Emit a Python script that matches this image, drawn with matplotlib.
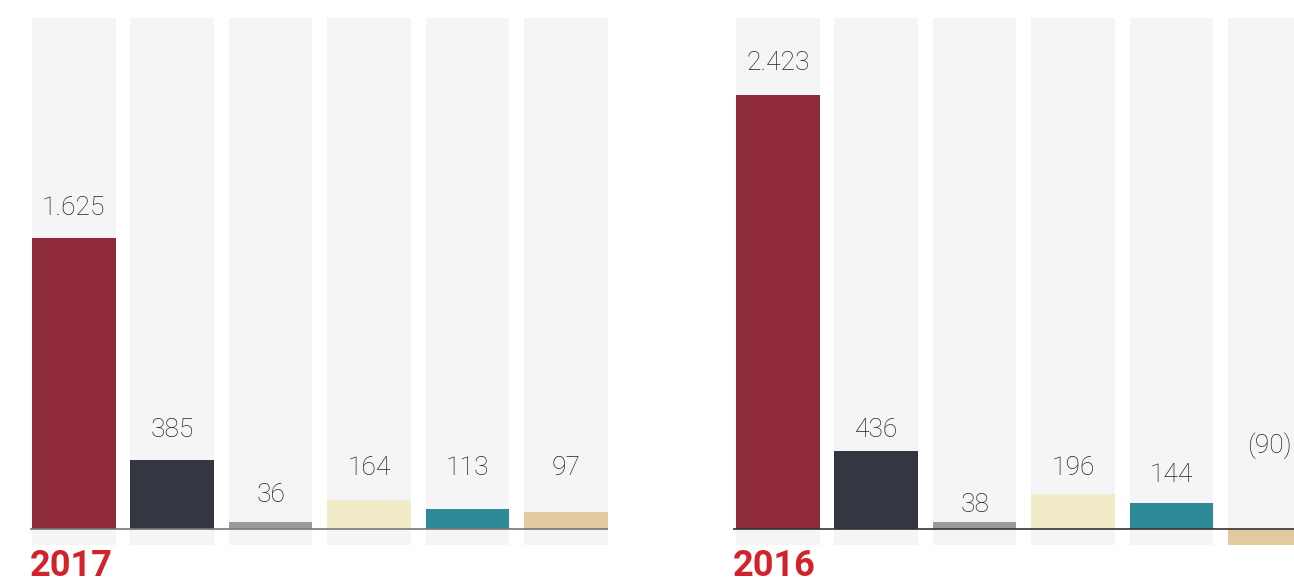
import matplotlib.pyplot as plt

# values per year, six segments each
years = ['2017', '2016']
values_2017 = [1625, 385, 36, 164, 113, 97]
values_2016 = [2423, 436, 38, 196, 144, -90]
labels_2017 = ['1.625', '385', '36', '164', '113', '97']
labels_2016 = ['2.423', '436', '38', '196', '144', '(90)']

colors = ['#8f2a3d', '#343641', '#9a9c9c', '#f1ebc8', '#2e8a98', '#e2c9a0']
track_color = '#f5f5f7'
ymin, ymax = -90, 2855

# label offsets above bar top, in pixels
offsets_2017 = [30, 30, 27, 32, 41, 44]
offsets_2016 = [32, 21, 17, 26, 28, 83]

W, H = 1294, 585
fig = plt.figure(figsize=(W / 100, H / 100), dpi=100)
fig.patch.set_facecolor('white')


def panel(x0, x1, xlim, vals, labs, offs, year, base_color):
    ax = fig.add_axes([x0 / W, 40 / H, (x1 - x0) / W, 527 / H])
    ax.set_xlim(*xlim)
    ax.set_ylim(ymin, ymax)
    xs = range(len(vals))
    ax.bar(xs, [ymax - ymin] * len(vals), bottom=ymin, width=0.85,
           color=track_color, zorder=1)
    ax.bar(xs, vals, width=0.85, color=colors, zorder=2)
    ax.axhline(0, color=base_color, lw=1.2, zorder=3)
    for x, v, t, o in zip(xs, vals, labs, offs):
        top = max(v, 0)
        ax.annotate(t, (x, top), xytext=(0, o * 0.72), textcoords='offset points',
                    ha='center', va='center', fontsize=19, fontfamily='Roboto',
                    fontweight='light', color='#222222', zorder=4)
    ax.axis('off')
    fig.text(x0 / W, 0.5 / H, year, fontsize=26, fontfamily='Roboto',
             fontweight='bold', color='#d2232a', ha='left', va='bottom')
    return ax


panel(30, 607.6, (-0.445, 5.425), values_2017, labels_2017, offsets_2017,
      years[0], '#777777')
panel(733, 1294, (-0.455, 5.246), values_2016, labels_2016, offsets_2016,
      years[1], '#333333')

fig.savefig('out.png', dpi=100)
